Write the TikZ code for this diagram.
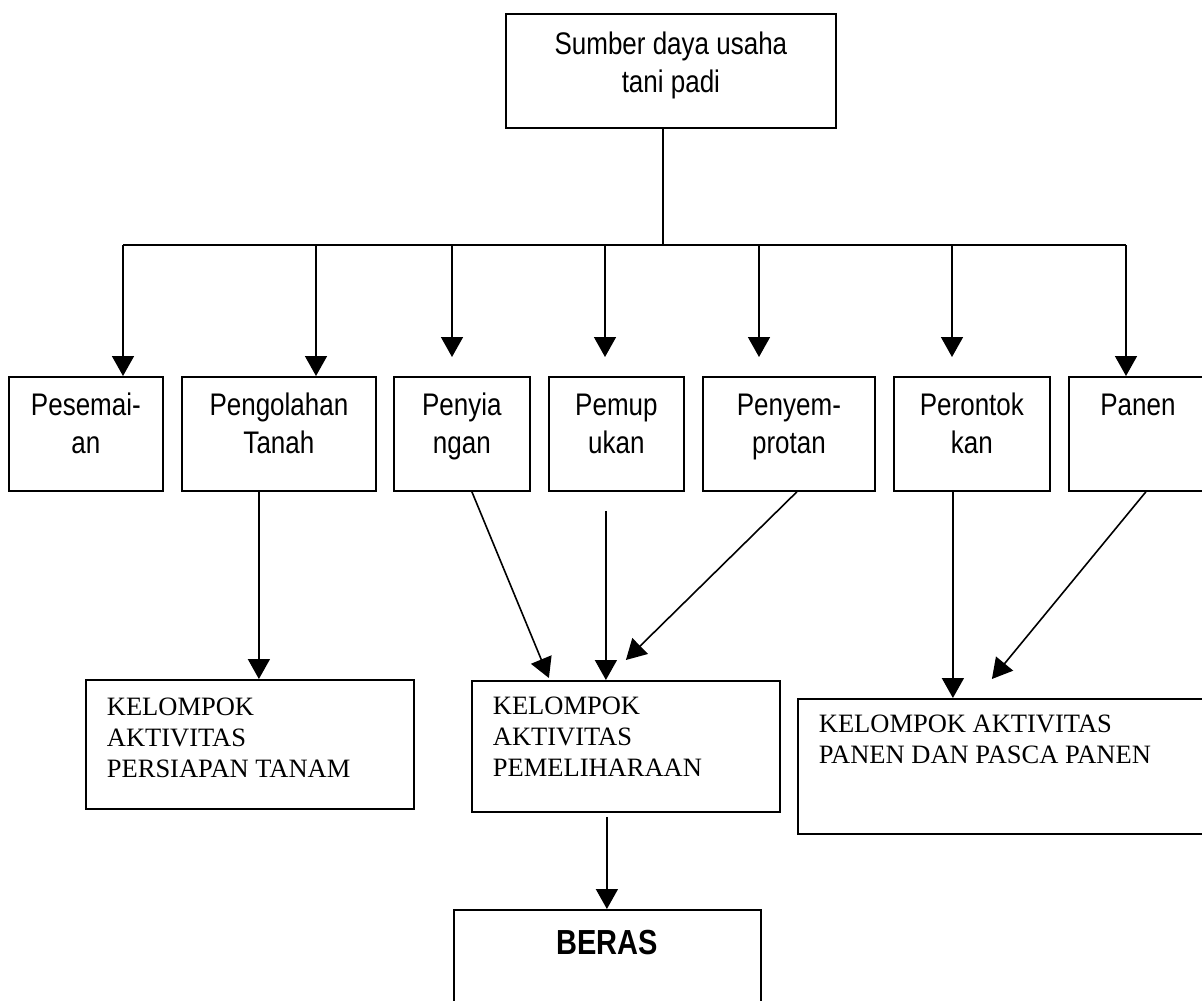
\documentclass[tikz,border=0pt]{standalone}
\usepackage{fontspec}
\setmainfont{Liberation Serif}
\newfontfamily\arialf{Liberation Sans}
\usetikzlibrary{arrows.meta}
\newcommand{\vsc}[1]{\scalebox{1}[1.2]{#1}}
\newcommand{\bxc}[4]{\begin{minipage}[t][#2][t]{#1}\vspace*{\dimexpr#3-30pt\relax}#4\end{minipage}}
\newcommand{\sansbox}[1]{\centering\arialf\fontsize{26}{38}\selectfont\rule{0pt}{30pt}#1\par}
\newcommand{\serifbox}[1]{\raggedright\leftskip=21pt\fontsize{26.5}{31}\selectfont\rule{0pt}{30pt}#1\par}
\tikzset{
  box/.style={draw, line width=1.8pt, inner sep=0pt, anchor=north west, fill=white},
  ln/.style={line width=1.6pt},
  arr/.style={line width=1.6pt, -{Triangle[width=22pt,length=20pt]}}
}
\begin{document}
\begin{tikzpicture}[x=1pt,y=-1pt]
\useasboundingbox (0,0) rectangle (1202,1001);
\fill[white] (0,0) rectangle (1202,1001);
\clip (0,0) rectangle (1202,1001);
% top
\node[box] (top) at (505,13) {\bxc{330pt}{114pt}{41pt}{\sansbox{\vsc{Sumber daya usaha}\\\vsc{tani padi}}}};
% row of activities
\node[box] (b1) at (8,376) {\bxc{154pt}{114pt}{39pt}{\sansbox{\vsc{Pesemai-}\\\vsc{an}}}};
\node[box] (b2) at (181,376) {\bxc{194pt}{114pt}{39pt}{\sansbox{\vsc{Pengolahan}\\\vsc{Tanah}}}};
\node[box] (b3) at (393,376) {\bxc{136pt}{114pt}{39pt}{\sansbox{\vsc{Penyia}\\\vsc{ngan}}}};
\node[box] (b4) at (548,376) {\bxc{135pt}{114pt}{39pt}{\sansbox{\vsc{Pemup}\\\vsc{ukan}}}};
\node[box] (b5) at (702,376) {\bxc{172pt}{114pt}{39pt}{\sansbox{\vsc{Penyem-}\\\vsc{protan}}}};
\node[box] (b6) at (893,376) {\bxc{156pt}{114pt}{39pt}{\sansbox{\vsc{Perontok}\\\vsc{kan}}}};
\node[box] (b7) at (1068,376) {\bxc{138pt}{114pt}{39pt}{\sansbox{\vsc{Panen}}}};
% groups
\node[box] (g1) at (85,679) {\bxc{328pt}{129pt}{36pt}{\serifbox{KELOMPOK\\AKTIVITAS\\PERSIAPAN TANAM}}};
\node[box] (g2) at (471,680) {\bxc{308pt}{131pt}{34pt}{\serifbox{KELOMPOK\\AKTIVITAS\\PEMELIHARAAN}}};
\node[box] (g3) at (797,698) {\bxc{409pt}{135pt}{34pt}{\serifbox{KELOMPOK AKTIVITAS\\PANEN DAN PASCA PANEN}}};
\node[box] (beras) at (453,909) {\bxc{307pt}{140pt}{45pt}{\centering\arialf\bfseries\fontsize{29}{35}\selectfont\rule{0pt}{30pt}\vsc{BERAS}\par}};
% bus
\coordinate (jt) at (663,245);
\coordinate (j1) at (123,245);
\coordinate (j2) at (316,245);
\coordinate (j3) at (452,245);
\coordinate (j4) at (605,245);
\coordinate (j5) at (759,245);
\coordinate (j6) at (952,245);
\coordinate (j7) at (1126,245);
\draw[ln] (jt |- top.south) -- (jt);
\draw[ln] (j1) -- (j7);
\draw[arr] (j1) -- (j1 |- b1.north);
\draw[arr] (j2) -- (j2 |- b2.north);
\draw[arr, shorten >=19pt] (j3) -- (j3 |- b3.north);
\draw[arr, shorten >=19pt] (j4) -- (j4 |- b4.north);
\draw[arr, shorten >=19pt] (j5) -- (j5 |- b5.north);
\draw[arr, shorten >=19pt] (j6) -- (j6 |- b6.north);
\draw[arr] (j7) -- (j7 |- b7.north);
% to groups
\draw[arr] ([xshift=-20pt]b2.south) -- ([xshift=9pt]g1.north);
\draw[arr] ([xshift=10pt]b3.south) -- ([xshift=-77pt,yshift=2pt]g2.north);
\draw[arr, shorten <=19pt] ([xshift=-10.5pt]b4.south) -- ([xshift=-20pt]g2.north);
\draw[arr] ([xshift=8pt]b5.south) -- ([yshift=20pt]g2.north);
\draw[arr] ([xshift=-19pt]b6.south) -- ([xshift=-49.5pt]g3.north);
\draw[arr] ([xshift=8pt]b7.south) -- ([xshift=-10.5pt,yshift=19pt]g3.north);
\draw[arr, shorten <=4pt] ([xshift=-19pt]g2.south) -- ([xshift=-0.5pt]beras.north);
\end{tikzpicture}
\end{document}
